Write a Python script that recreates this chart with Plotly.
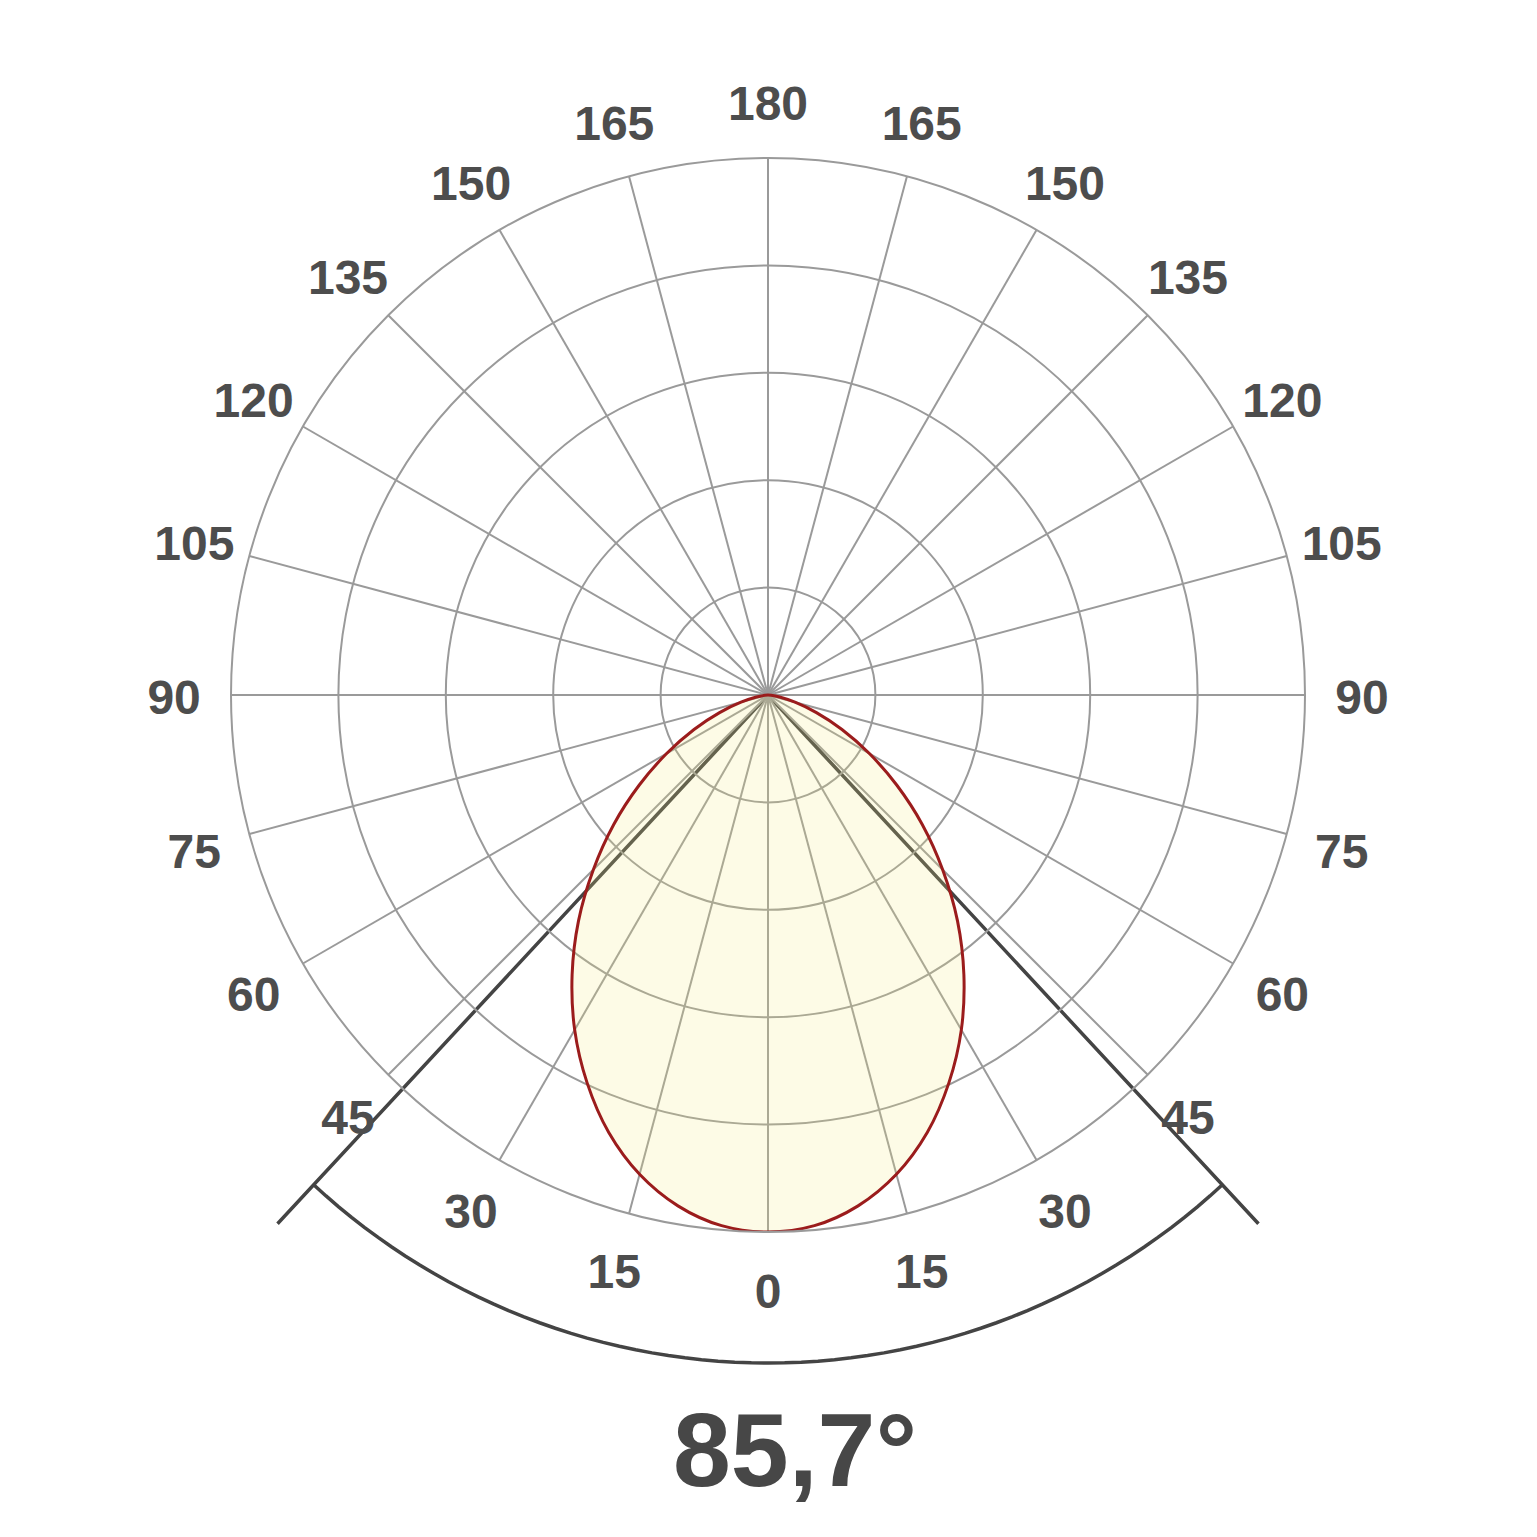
import plotly.graph_objects as go

# Half-profile of the luminous intensity (relative), symmetric about 0°
half_angles = [0, 5, 10, 15, 20, 25, 30, 35, 40, 45, 50, 55, 60, 65, 70, 75, 80, 85, 90]
half_values = [1.0, 0.992, 0.966, 0.924, 0.867, 0.797, 0.720, 0.636, 0.549, 0.460,
               0.375, 0.293, 0.218, 0.152, 0.096, 0.052, 0.022, 0.006, 0.0]

beam_angle = 85.7
beam_label = "85,7°"
beam_line_r = 1.343
beam_arc_r = 1.244
label_r = 1.106

tick_angles = list(range(0, 360, 15))
tick_labels = [str(a if a <= 180 else 360 - a) for a in tick_angles]
ring_values = [0.2, 0.4, 0.6, 0.8, 1.0]

# full curve: from -90 through 0 to +90
theta = [360 - a for a in half_angles[::-1]] + half_angles[1:]
r = half_values[::-1] + half_values[1:]

half_beam = beam_angle / 2
grid_col = "#9a9a9a"
dark = "#444444"

fig = go.Figure()

# beam lines (drawn in a background polar subplot with a larger radial range)
fig.add_trace(go.Scatterpolar(
    r=[beam_line_r, 0, beam_line_r], theta=[360 - half_beam, 0, half_beam],
    mode="lines", line=dict(color=dark, width=3.5), cliponaxis=False,
    hoverinfo="skip", showlegend=False, subplot="polar"))

n = 61
arc_theta = [(-half_beam + i * beam_angle / (n - 1)) % 360 for i in range(n)]
fig.add_trace(go.Scatterpolar(
    r=[beam_arc_r] * n, theta=arc_theta, mode="lines",
    line=dict(color=dark, width=3.5), cliponaxis=False,
    hoverinfo="skip", showlegend=False, subplot="polar"))

# intensity curve
fig.add_trace(go.Scatterpolar(
    r=r, theta=theta, mode="lines", fill="toself",
    fillcolor="rgba(244,233,120,0.19)",
    line=dict(color="#9b1c1c", width=3, shape="spline"),
    cliponaxis=False, hoverinfo="skip", showlegend=False, subplot="polar2"))

# angle labels, centred on a fixed radius
fig.add_trace(go.Scatterpolar(
    r=[label_r] * len(tick_angles), theta=tick_angles, text=tick_labels,
    mode="text", textposition="middle center",
    textfont=dict(family="Liberation Sans", size=48, color="#4d4d4d", weight="bold"),
    cliponaxis=False, hoverinfo="skip", showlegend=False, subplot="polar3"))

W = H = 1521
cx, cy, R = 760, 687, 537          # centre and outer radius in figure pixels
BR = 1.4                            # radial range of the beam subplot
Rb = R * BR
hw = Rb * 0.70710678                # half-width of the 225..315 sector
LR = 1.2                            # radial range of the label subplot
Rl = R * LR
cyl = cy + 7                        # text baseline compensation for the label subplot

fig.update_layout(
    width=W, height=H,
    margin=dict(l=0, r=0, t=0, b=0),
    paper_bgcolor="white",
    showlegend=False,
    polar=dict(
        domain=dict(x=[(cx - hw) / W, (cx + hw) / W], y=[1 - (cy + Rb) / H, 1 - cy / H]),
        sector=[225, 315],
        bgcolor="rgba(0,0,0,0)",
        radialaxis=dict(range=[0, BR], visible=False),
        angularaxis=dict(rotation=-90, direction="clockwise", visible=False),
    ),
    polar2=dict(
        domain=dict(x=[(cx - R) / W, (cx + R) / W], y=[1 - (cy + R) / H, 1 - (cy - R) / H]),
        bgcolor="rgba(0,0,0,0)",
        radialaxis=dict(range=[0, 1], tickvals=ring_values, showticklabels=False,
                        showline=False, ticks="", gridcolor=grid_col, gridwidth=2),
        angularaxis=dict(rotation=-90, direction="clockwise",
                         tickmode="array", tickvals=tick_angles, showticklabels=False,
                         showline=True, linecolor=grid_col, linewidth=2,
                         gridcolor=grid_col, gridwidth=2, ticks=""),
    ),
    polar3=dict(
        domain=dict(x=[(cx - Rl) / W, (cx + Rl) / W], y=[1 - (cyl + Rl) / H, 1 - (cyl - Rl) / H]),
        bgcolor="rgba(0,0,0,0)",
        radialaxis=dict(range=[0, LR], visible=False),
        angularaxis=dict(rotation=-90, direction="clockwise", visible=False),
    ),
    annotations=[dict(text=beam_label, x=787 / W, y=1 - 1442 / H, xref="paper", yref="paper",
                      xanchor="center", yanchor="middle", showarrow=False,
                      font=dict(family="Liberation Sans", size=104, color="#474747",
                                weight="bold"))],
)

fig.write_html("out.html")
